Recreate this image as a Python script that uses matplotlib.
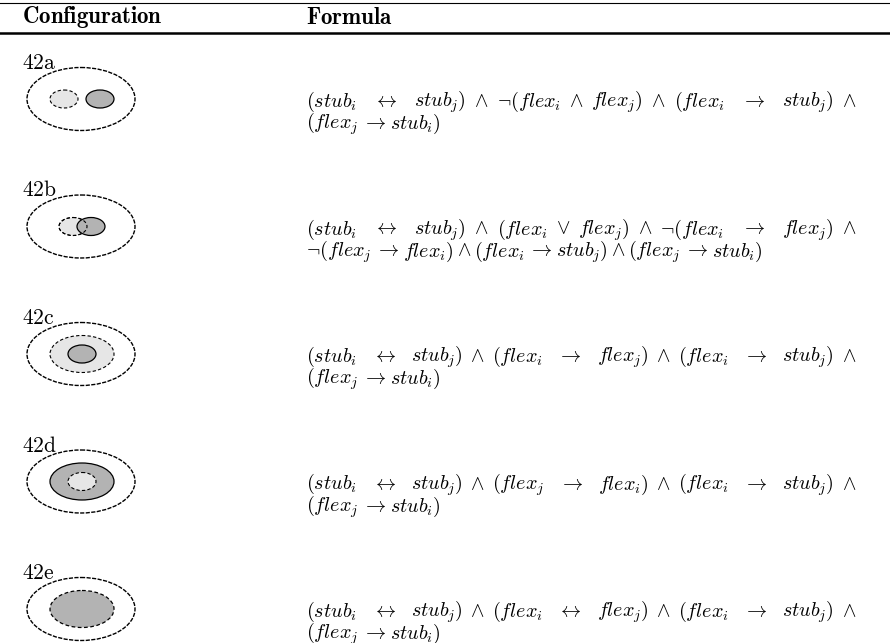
import numpy as np
import matplotlib.pyplot as plt
from matplotlib.patches import Ellipse

plt.rcParams['mathtext.fontset'] = 'cm'

# table contents
labels = ["42a", "42b", "42c", "42d", "42e"]
relations = ["disjoint", "overlap", "i_in_j", "j_in_i", "equal"]


def S(k):
    return r"\mathit{stub}_{%s}" % k


def F(k):
    return r"\mathit{flex}_{%s}" % k


IFF = r"\leftrightarrow"
IMP = r"\rightarrow"
AND = r"\wedge"
OR = r"\vee"
NEG = r"\neg"

formulas = [
    [["(" + S("i"), IFF, S("j") + ")", AND, NEG + "(" + F("i"), AND, F("j") + ")", AND,
      "(" + F("i"), IMP, S("j") + ")", AND],
     ["(" + F("j"), IMP, S("i") + ")"]],
    [["(" + S("i"), IFF, S("j") + ")", AND, "(" + F("i"), OR, F("j") + ")", AND,
      NEG + "(" + F("i"), IMP, F("j") + ")", AND],
     [NEG + "(" + F("j"), IMP, F("i") + ")", AND, "(" + F("i"), IMP, S("j") + ")", AND,
      "(" + F("j"), IMP, S("i") + ")"]],
    [["(" + S("i"), IFF, S("j") + ")", AND, "(" + F("i"), IMP, F("j") + ")", AND,
      "(" + F("i"), IMP, S("j") + ")", AND],
     ["(" + F("j"), IMP, S("i") + ")"]],
    [["(" + S("i"), IFF, S("j") + ")", AND, "(" + F("j"), IMP, F("i") + ")", AND,
      "(" + F("i"), IMP, S("j") + ")", AND],
     ["(" + F("j"), IMP, S("i") + ")"]],
    [["(" + S("i"), IFF, S("j") + ")", AND, "(" + F("i"), IFF, F("j") + ")", AND,
      "(" + F("i"), IMP, S("j") + ")", AND],
     ["(" + F("j"), IMP, S("i") + ")"]],
]

W, H = 890, 643
fig = plt.figure(figsize=(W / 100, H / 100), dpi=100)
ax = fig.add_axes([0, 0, 1, 1])
ax.set_xlim(0, W)
ax.set_ylim(H, 0)
ax.axis("off")
renderer = fig.canvas.get_renderer()

FS = 14.5
LIGHT = "#e6e6e6"
DARK = "#b3b3b3"

# header
ax.plot([0, W], [2.5, 2.5], color="black", lw=0.8)
ax.plot([0, W], [33, 33], color="black", lw=1.8)
ax.text(22, 17, r"$\mathbf{Configuration}$", fontsize=16.5, va="center", ha="left")
ax.text(306, 17, r"$\mathbf{Formula}$", fontsize=16.5, va="center", ha="left")


def draw_config(cx, cy, rel):
    ax.add_patch(Ellipse((cx, cy), 108, 63, fill=False, ec="black", lw=1.0,
                         ls=(0, (3, 1))))
    small = (28, 18)
    big = (64, 37)
    dash = (0, (3, 2))
    if rel == "disjoint":
        ax.add_patch(Ellipse((cx - 17, cy), *small, fc=LIGHT, ec="black", lw=0.8, ls=dash))
        ax.add_patch(Ellipse((cx + 19, cy), *small, fc=DARK, ec="black", lw=0.9))
    elif rel == "overlap":
        ax.add_patch(Ellipse((cx - 8, cy), *small, fc=LIGHT, ec="black", lw=0.8, ls=dash))
        ax.add_patch(Ellipse((cx + 10, cy), *small, fc=DARK, ec="black", lw=0.9))
        ax.add_patch(Ellipse((cx - 8, cy), *small, fill=False, ec="black", lw=0.8, ls=dash))
    elif rel == "i_in_j":
        ax.add_patch(Ellipse((cx + 1, cy), *big, fc=LIGHT, ec="black", lw=0.8, ls=dash))
        ax.add_patch(Ellipse((cx + 1, cy), *small, fc=DARK, ec="black", lw=0.9))
    elif rel == "j_in_i":
        ax.add_patch(Ellipse((cx + 1, cy), *big, fc=DARK, ec="black", lw=0.9))
        ax.add_patch(Ellipse((cx + 1, cy), *small, fc=LIGHT, ec="black", lw=0.8, ls=dash))
    else:
        ax.add_patch(Ellipse((cx + 1, cy), *big, fc=DARK, ec="black", lw=0.9, ls=dash))


def token_width(s):
    t = ax.text(0, 0, "$" + s + "$", fontsize=FS)
    w = t.get_window_extent(renderer).width
    t.remove()
    return w


def draw_line(tokens, x0, y, x1=None):
    widths = [token_width(t) for t in tokens]
    gaps, stretch = [], []
    for a, b in zip(tokens[:-1], tokens[1:]):
        op = a if a in (IFF, IMP, AND, OR) else b
        if op in (IFF, IMP):
            gaps.append(3.5)
            stretch.append(5.0)
        else:
            gaps.append(3.0)
            stretch.append(2.0)
    gaps = np.array(gaps)
    if x1 is not None:
        extra = (x1 - x0) - (sum(widths) + gaps.sum())
        gaps = gaps + extra * np.array(stretch) / sum(stretch)
    x = x0
    for i, (tok, w) in enumerate(zip(tokens, widths)):
        ax.text(x, y, "$" + tok + "$", fontsize=FS, va="baseline", ha="left")
        if i < len(gaps):
            x += w + gaps[i]


for k, (lab, rel, lines) in enumerate(zip(labels, relations, formulas)):
    cy = 99 + 127.5 * k
    ax.text(22, cy - 30, r"$\mathrm{" + lab + "}$", fontsize=15.5, va="baseline", ha="left")
    draw_config(81, cy, rel)
    draw_line(lines[0], 306, cy + 8, 856)
    draw_line(lines[1], 306, cy + 30)

fig.savefig("out.png", dpi=100)
